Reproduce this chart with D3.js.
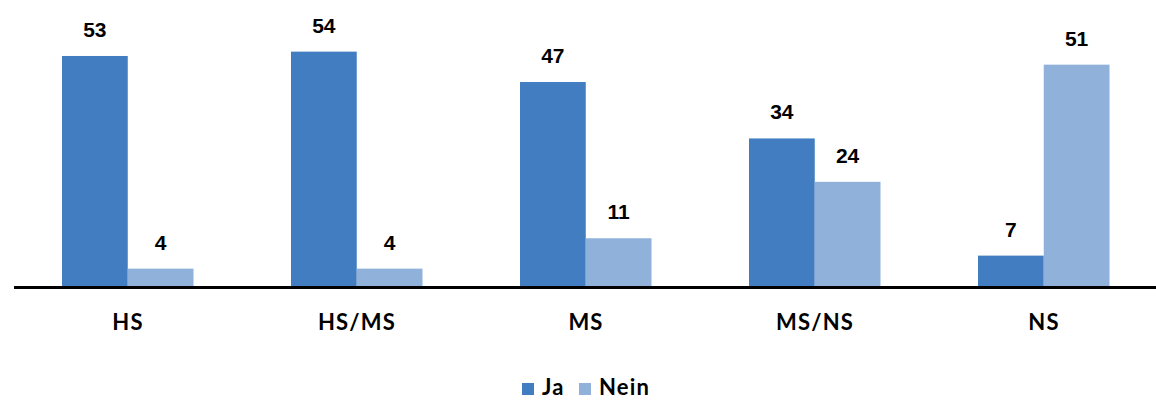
<!DOCTYPE html>
<html>
<head>
<meta charset="utf-8">
<script src="https://cdn.jsdelivr.net/npm/d3@7"></script>
<style>
  body { margin: 0; background: #fff; }
  .val { font-family: "Liberation Sans", Arial, sans-serif; font-weight: bold; font-size: 21px; fill: #000; }
  .cat { font-family: "Lato", "Open Sans", sans-serif; font-weight: bold; font-size: 22px; fill: #000; letter-spacing: 1.2px; }
</style>
</head>
<body>
<svg width="1156" height="401"></svg>
<script>
var categories = ['HS', 'HS/MS', 'MS', 'MS/NS', 'NS'];
var series = ['Ja', 'Nein'];
var ja = [53, 54, 47, 34, 7];
var nein = [4, 4, 11, 24, 51];
var colors = ['#417dc0', '#8fb1da'];

var svg = d3.select('svg');
var baseline = 286;

var x0 = d3.scaleBand()
  .domain(categories)
  .range([13.5, 1158.5]);

var x1 = d3.scaleBand()
  .domain(series)
  .range([48.5, 180]);

var y = d3.scaleLinear()
  .domain([0, 54])
  .range([baseline, baseline - 54 * 4.34]);

var data = categories.map(function(c, i){
  return {cat: c, vals: [ja[i], nein[i]]};
});

var groups = svg.selectAll('.grp')
  .data(data)
  .enter()
  .append('g')
    .classed('grp', true)
    .attr('transform', d => 'translate(' + x0(d.cat) + ',0)');

groups.selectAll('rect')
  .data(d => d.vals.map((v, i) => ({s: series[i], v: v, i: i})))
  .enter()
  .append('rect')
    .attr('x', d => x1(d.s))
    .attr('width', x1.bandwidth())
    .attr('y', d => y(d.v))
    .attr('height', d => baseline - y(d.v))
    .attr('fill', d => colors[d.i]);

groups.selectAll('.val')
  .data(d => d.vals.map((v, i) => ({s: series[i], v: v})))
  .enter()
  .append('text')
    .classed('val', true)
    .attr('x', d => x1(d.s) + x1.bandwidth() / 2)
    .attr('y', d => y(d.v) - 19)
    .attr('text-anchor', 'middle')
    .text(d => d.v);

// x axis line + labels
var xAxis = d3.axisBottom(x0).tickSize(0).tickPadding(0);
var ax = svg.append('g')
  .attr('transform', 'translate(0,' + (baseline + 1.5) + ')')
  .call(xAxis);
ax.select('.domain')
  .attr('stroke', '#000')
  .attr('stroke-width', 3)
  .attr('d', 'M14,0H1157');
ax.selectAll('text')
  .attr('class', 'cat')
  .attr('y', 42.5)
  .attr('dy', 0)
  .style('font-family', null)
  .style('font-size', null);
ax.attr('font-family', null).attr('font-size', null);

// legend (text sits right at the bottom edge, as in the original)
var legend = svg.append('g');
var legX = [522, 579];
series.forEach(function(s, i){
  legend.append('rect')
    .attr('x', legX[i])
    .attr('y', 383)
    .attr('width', 12)
    .attr('height', 12)
    .attr('fill', colors[i]);
  legend.append('text')
    .classed('cat', true)
    .attr('x', legX[i] + 20)
    .attr('y', 395)
    .text(s);
});
</script>
</body>
</html>
